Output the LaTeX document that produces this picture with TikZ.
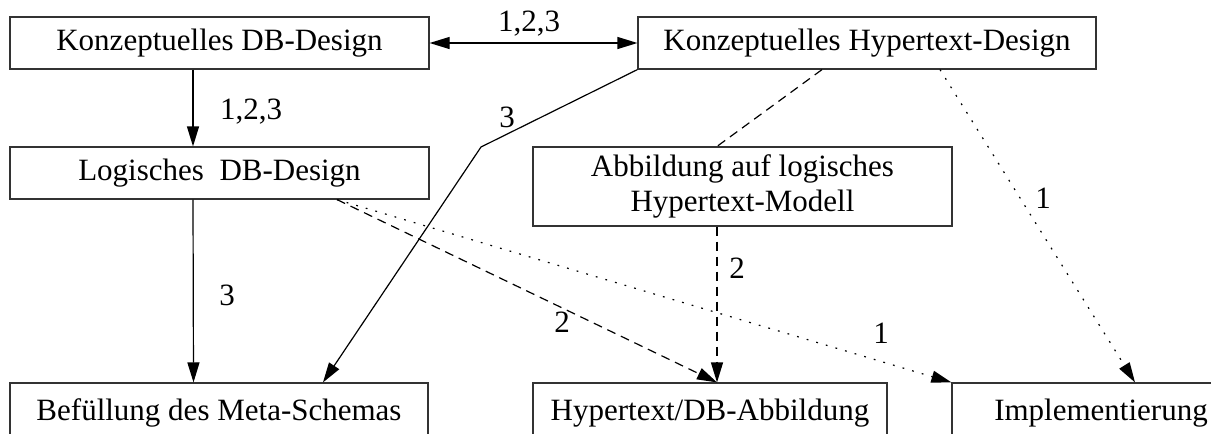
\documentclass[tikz,border=0pt]{standalone}
\usepackage{fontspec}
\setmainfont{Liberation Serif}
\usetikzlibrary{arrows.meta}
\tikzstyle{line} = [draw, line width=0.6pt, -{Triangle[length=10pt,width=6pt]}]
\tikzstyle{phase} = [rectangle, draw=black!80, line width=0.6pt,
  inner sep=0pt, text centered, minimum height=26pt]
\tikzstyle{lbl} = [inner sep=0pt]
\tikzstyle{dashline} = [dash pattern=on 4.5pt off 3pt]
\tikzstyle{dotline} = [dash pattern=on 0.9pt off 4.1pt]

\begin{document}
\begin{tikzpicture}[x=0.5pt, y=-0.5pt, font=\fontsize{15.5}{17.5}\selectfont]
  \useasboundingbox (0,0) rectangle (1211,434);
  \clip (0,0) rectangle (1211,434);

  \node [phase, minimum width=209.5pt] (kdb) at (219.5,43) {Konzeptuelles DB-Design};
  \node [phase, minimum width=229pt] (kht) at (867,43) {Konzeptuelles Hypertext-Design};
  \node [phase, minimum width=209.5pt] (ldb) at (219.5,173) {Logisches\ \ DB-Design};
  \node [phase, minimum width=209.5pt, minimum height=39.5pt, align=center] (abb)
    at (742.5,186.5) {Abbildung auf logisches\\Hypertext-Modell};
  \node [phase, minimum width=209pt, minimum height=30pt] (meta) at (219,413) {Befüllung des Meta-Schemas};
  \node [phase, minimum width=177pt, minimum height=30pt] (htdb) at (710,413) {Hypertext/DB-Abbildung};
  \node [phase, minimum width=149pt, minimum height=30pt] (impl) at (1101,413) {Implementierung};

  \coordinate (kink) at (481,147);

  \node [lbl] (l123a) at (529,24) {1,2,3};
  \node [lbl] (l123b) at (251,112) {1,2,3};
  \node [lbl] (l3a) at (507,117) {3};
  \node [lbl] (l3b) at (227,295) {3};
  \node [lbl] (l2a) at (737,268) {2};
  \node [lbl] (l2b) at (562,322) {2};
  \node [lbl] (l1a) at (1043,198) {1};
  \node [lbl] (l1b) at (881,333) {1};

  \path [line, {Triangle[length=10pt,width=6pt]}-{Triangle[length=10pt,width=6pt]}] (kdb) -- (kht);
  \path [line] ([xshift=-13.25pt]kdb.south) -- ([xshift=-13.25pt]ldb.north);
  \path [line] ([xshift=-13.25pt]ldb.south) -- ([xshift=-12.75pt]meta.north);
  \path [line] (kht.south west) -- (kink) -- ([xshift=52pt]meta.north);
  \path [draw, line width=0.6pt, dashline] ([xshift=-22.5pt]kht.south) -- ([xshift=-12.75pt]abb.north);
  \path [line, dashline] ([xshift=-12.75pt]abb.south) -- ([xshift=3.5pt]htdb.north);
  \path [line, dashline] ([xshift=58.75pt]ldb.south) -- ([xshift=3.5pt]htdb.north);
  \path [line, dotline] ([xshift=58.75pt]ldb.south) -- (impl.north west);
  \path [line, dotline] ([xshift=36.5pt]kht.south) -- ([xshift=17pt]impl.north);

\end{tikzpicture}
\end{document}
